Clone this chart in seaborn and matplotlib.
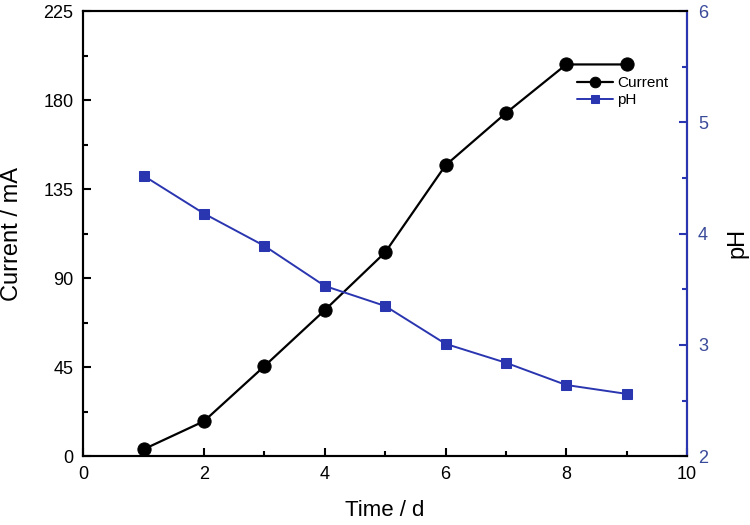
import matplotlib
matplotlib.use("Agg")
import matplotlib.pyplot as plt
import seaborn as sns
import pandas as pd
from matplotlib.ticker import MultipleLocator

# values
time_d = [1, 2, 3, 4, 5, 6, 7, 8, 9]
current_ma = [3.5, 17.7, 45.5, 73.8, 103, 147, 173.4, 198, 198]
ph = [4.52, 4.18, 3.89, 3.53, 3.35, 3.01, 2.84, 2.64, 2.56]

df = pd.DataFrame({"Time": time_d, "Current": current_ma, "pH": ph})

sns.set_style("ticks")
plt.rcParams['font.family'] = ['Liberation Sans', 'DejaVu Sans']
plt.rcParams.update({"text.color": "black", "axes.labelcolor": "black",
                     "xtick.color": "black", "ytick.color": "black"})

blue = "#2a35b0"
tick_blue = "#3a4a9a"

fig = plt.figure(figsize=(7.5, 5.25), dpi=100)
ax = fig.add_axes([0.111, 0.131, 0.805, 0.848])
ax2 = ax.twinx()

sns.lineplot(data=df, x="Time", y="Current", ax=ax, color="black", marker="o",
             markersize=9.5, linewidth=1.6, markeredgecolor="black", label="Current", legend=False)
sns.lineplot(data=df, x="Time", y="pH", ax=ax2, color=blue, marker="s",
             markersize=7, linewidth=1.4, markeredgecolor=blue, label="pH", legend=False)

ax.set_xlim(0, 10)
ax.set_ylim(0, 225)
ax2.set_ylim(2, 6)
ax.xaxis.set_major_locator(MultipleLocator(2))
ax.xaxis.set_minor_locator(MultipleLocator(1))
ax.yaxis.set_major_locator(MultipleLocator(45))
ax.yaxis.set_minor_locator(MultipleLocator(22.5))
ax2.yaxis.set_major_locator(MultipleLocator(1))
ax2.yaxis.set_minor_locator(MultipleLocator(0.5))

for a in (ax, ax2):
    for s in a.spines.values():
        s.set_linewidth(1.5)
        s.set_color("black")
ax2.spines["right"].set_color(blue)

ax.tick_params(axis="both", which="major", direction="in", length=6, width=1.5, labelsize=13, pad=7)
ax.tick_params(axis="both", which="minor", direction="in", length=3.5, width=1.5)
ax.tick_params(axis="x", top=False, which="both")
ax2.tick_params(axis="y", which="major", direction="in", length=6, width=1.5, labelsize=13,
                color=blue, labelcolor=tick_blue, pad=8)
ax2.tick_params(axis="y", which="minor", direction="in", length=3.5, width=1.5, color=blue)

ax.set_xlabel("Time / d", fontsize=16)
ax.set_ylabel("Current / mA", fontsize=17)
ax2.set_ylabel("pH", fontsize=17)
ax.xaxis.set_label_coords(0.5, -0.098)
ax.yaxis.set_label_coords(-0.1, 0.5)
ax2.yaxis.set_label_coords(1.066, 0.48)

h1, l1 = ax.get_legend_handles_labels()
h2, l2 = ax2.get_legend_handles_labels()
ax.legend(h1 + h2, l1 + l2, loc="center left", bbox_to_anchor=(0.818, 0.819),
          frameon=False, fontsize=11, handlelength=2.35, handletextpad=0.25,
          labelspacing=0.2, borderpad=0, borderaxespad=0, markerscale=0.8)

fig.savefig("out.png", dpi=100)
